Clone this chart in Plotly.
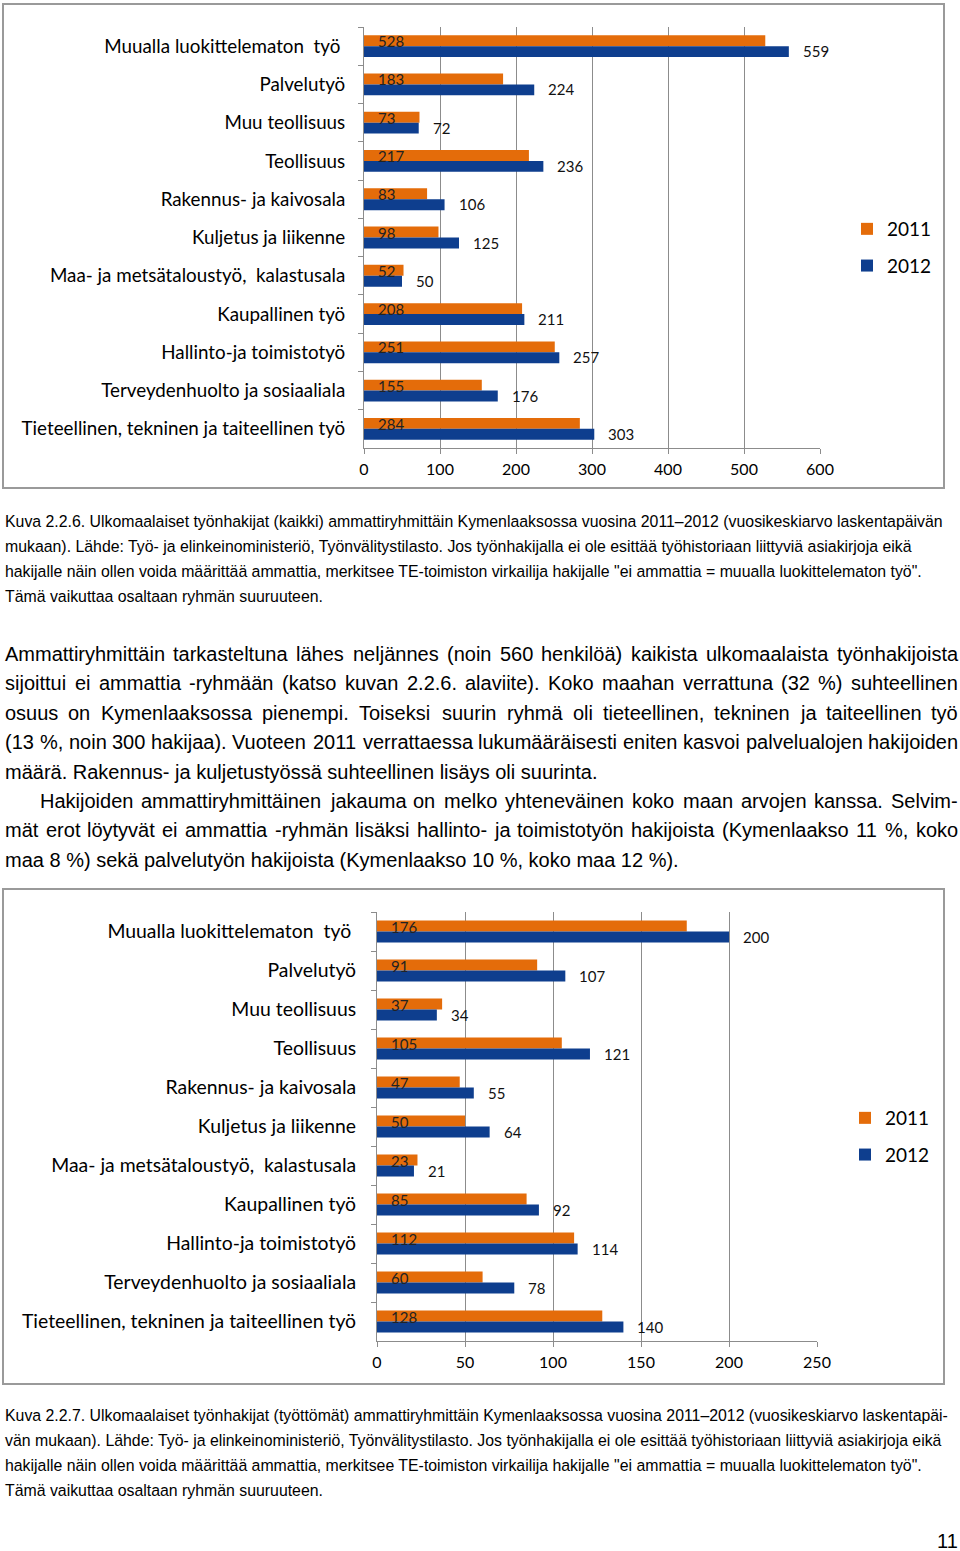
import plotly.graph_objects as go

# ---------------- data ----------------
categories = [
    "Muualla luokittelematon\u00a0 työ\u00a0",
    "Palvelutyö",
    "Muu teollisuus",
    "Teollisuus",
    "Rakennus- ja kaivosala",
    "Kuljetus ja liikenne",
    "Maa- ja metsätaloustyö,\u00a0 kalastusala",
    "Kaupallinen työ",
    "Hallinto-ja toimistotyö",
    "Terveydenhuolto ja sosiaaliala",
    "Tieteellinen, tekninen ja taiteellinen työ",
]
years = ["2011", "2012"]
all_2011 = [528, 183, 73, 217, 83, 98, 52, 208, 251, 155, 284]
all_2012 = [559, 224, 72, 236, 106, 125, 50, 211, 257, 176, 303]
unemp_2011 = [176, 91, 37, 105, 47, 50, 23, 85, 112, 60, 128]
unemp_2012 = [200, 107, 34, 121, 55, 64, 21, 92, 114, 78, 140]
x_ticks_all = [0, 100, 200, 300, 400, 500, 600]
x_ticks_unemp = [0, 50, 100, 150, 200, 250]

caption1 = [
    "Kuva 2.2.6. Ulkomaalaiset työnhakijat (kaikki) ammattiryhmittäin Kymenlaaksossa vuosina 2011–2012 (vuosikeskiarvo laskentapäivän",
    "mukaan). Lähde: Työ- ja elinkeinoministeriö, Työnvälitystilasto. Jos työnhakijalla ei ole esittää työhistoriaan liittyviä asiakirjoja eikä",
    "hakijalle näin ollen voida määrittää ammattia, merkitsee TE-toimiston virkailija hakijalle \"ei ammattia = muualla luokittelematon työ\".",
    "Tämä vaikuttaa osaltaan ryhmän suuruuteen.",
]
caption2 = [
    "Kuva 2.2.7. Ulkomaalaiset työnhakijat (työttömät) ammattiryhmittäin Kymenlaaksossa vuosina 2011–2012 (vuosikeskiarvo laskentapäi-",
    "vän mukaan). Lähde: Työ- ja elinkeinoministeriö, Työnvälitystilasto. Jos työnhakijalla ei ole esittää työhistoriaan liittyviä asiakirjoja eikä",
    "hakijalle näin ollen voida määrittää ammattia, merkitsee TE-toimiston virkailija hakijalle \"ei ammattia = muualla luokittelematon työ\".",
    "Tämä vaikuttaa osaltaan ryhmän suuruuteen.",
]
# (text, justified, indent)
body_lines = [
    ("Ammattiryhmittäin tarkasteltuna lähes neljännes (noin 560 henkilöä) kaikista ulkomaalaista työnhakijoista", True, False),
    ("sijoittui ei ammattia -ryhmään (katso kuvan 2.2.6. alaviite). Koko maahan verrattuna (32 %) suhteellinen", True, False),
    ("osuus on Kymenlaaksossa pienempi. Toiseksi suurin ryhmä oli tieteellinen, tekninen ja taiteellinen työ", True, False),
    ("(13 %, noin 300 hakijaa). Vuoteen 2011 verrattaessa lukumääräisesti eniten kasvoi palvelualojen hakijoiden", True, False),
    ("määrä. Rakennus- ja kuljetustyössä suhteellinen lisäys oli suurinta.", False, False),
    ("Hakijoiden ammattiryhmittäinen jakauma on melko yhteneväinen koko maan arvojen kanssa. Selvim-", True, True),
    ("mät erot löytyvät ei ammattia -ryhmän lisäksi hallinto- ja toimistotyön hakijoista (Kymenlaakso 11 %, koko", True, False),
    ("maa 8 %) sekä palvelutyön hakijoista (Kymenlaakso 10 %, koko maa 12 %).", False, False),
]
page_number = "11"

# ---------------- geometry helpers ----------------
W, H = 960, 1551


def px(x):
    return x / W


def py(y):
    return 1 - y / H


ORANGE = "#E46C0A"
BLUE = "#0E3E8E"
GRID = "#8c8c8c"
CHART_FONT = "Lato, 'Noto Sans', sans-serif"
TEXT_FONT = "'Liberation Sans', Arial, Helvetica, sans-serif"

# Arial / Liberation Sans advance widths (per 1000 em)
ARIAL = {" ": 278, ".": 278, ",": 278, "(": 333, ")": 333, "%": 889, "-": 333, ":": 278}
for c in "abdeghnopquäöå0123456789":
    ARIAL[c] = 556
for c in "cksvxyz":
    ARIAL[c] = 500
for c in "ft":
    ARIAL[c] = 278
for c in "ijl":
    ARIAL[c] = 222
ARIAL.update({"m": 833, "r": 333, "w": 722, "A": 667, "K": 667, "S": 667, "V": 667,
              "T": 611, "H": 722, "R": 722, "M": 833, "L": 556, "E": 667})


def tw(s, size):
    return sum(ARIAL.get(ch, 556) for ch in s) * size / 1000.0


fig = go.Figure()

# ---------------- bars ----------------
panels = [
    (all_2011, all_2012, "x", "y", "legend"),
    (unemp_2011, unemp_2012, "x2", "y2", "legend2"),
]
for v11, v12, xa, ya, lg in panels:
    for vals, name, color in ((v11, years[0], ORANGE), (v12, years[1], BLUE)):
        fig.add_trace(go.Bar(
            y=categories, x=vals, orientation="h", name=name,
            marker=dict(color=color, line=dict(width=0)),
            xaxis=xa, yaxis=ya, legend=lg, legendgroup=lg + name,
            hovertemplate="%{y}: %{x}<extra>" + name + "</extra>",
        ))

annotations = []
# data labels
for v11, v12, xa, ya, lg in panels:
    for cat, a, b in zip(categories, v11, v12):
        annotations.append(dict(
            x=0, y=cat, xref=xa, yref=ya, text=str(a), showarrow=False,
            xanchor="left", yanchor="middle", xshift=12, yshift=5,
            font=dict(family=CHART_FONT, size=15, color="#222222"),
        ))
        annotations.append(dict(
            x=b, y=cat, xref=xa, yref=ya, text=str(b), showarrow=False,
            xanchor="left", yanchor="middle", xshift=12, yshift=-5,
            font=dict(family=CHART_FONT, size=15, color="#111111"),
        ))


def text_line(s, x, y, size, anchor="left"):
    annotations.append(dict(
        x=px(x), y=py(y), xref="paper", yref="paper", text=s, showarrow=False,
        xanchor=anchor, yanchor="middle", borderpad=0, borderwidth=0,
        font=dict(family=TEXT_FONT, size=size, color="#000000"),
    ))


# captions
cap_size = 15.85
for i, s in enumerate(caption1):
    text_line(s, 5, 521 + i * 25, cap_size)
for i, s in enumerate(caption2):
    text_line(s, 5, 1415 + i * 25, cap_size)

# body text (justified)
body_size = 20
left, right = 5, 958
for i, (s, just, indent) in enumerate(body_lines):
    y = 654 + i * 29.4
    x0 = 40 if indent else left
    if not just:
        text_line(s, x0, y, body_size)
        continue
    words = s.split(" ")
    natural = sum(tw(w_, body_size) for w_ in words)
    gap = (right - x0 - natural) / (len(words) - 1)
    x = x0
    for w_ in words:
        text_line(w_, x, y, body_size)
        x += tw(w_, body_size) + gap

text_line(page_number, 958, 1541, 20, anchor="right")

# ---------------- frames ----------------
shapes = [
    dict(type="rect", xref="paper", yref="paper", x0=px(3), x1=px(944), y0=py(488), y1=py(4),
         line=dict(color="#9a9a9a", width=2), fillcolor="rgba(0,0,0,0)", layer="below"),
    dict(type="rect", xref="paper", yref="paper", x0=px(3), x1=px(944), y0=py(1384), y1=py(889),
         line=dict(color="#9a9a9a", width=2), fillcolor="rgba(0,0,0,0)", layer="below"),
]

xaxis_common = dict(
    showgrid=True, gridcolor=GRID, gridwidth=1, zeroline=False,
    showline=True, linecolor=GRID, linewidth=1,
    ticks="outside", ticklen=5, tickcolor=GRID,
    tickfont=dict(family=CHART_FONT, size=16, color="#000000"),
    ticklabelstandoff=2, fixedrange=True, automargin=False,
)
yaxis_common = dict(
    type="category", categoryorder="array", categoryarray=categories,
    autorange="reversed", showgrid=False, zeroline=False,
    showline=True, linecolor=GRID, linewidth=1,
    ticks="outside", ticklen=5, tickcolor=GRID, tickson="boundaries",
    fixedrange=True, automargin=False,
)

legend_common = dict(
    font=dict(family=CHART_FONT, size=19, color="#000000"),
    bgcolor="rgba(0,0,0,0)", borderwidth=0,
    traceorder="grouped", tracegroupgap=9,
    xanchor="left", yanchor="top", itemwidth=30,
)

fig.update_layout(
    width=W, height=H, autosize=False,
    margin=dict(l=0, r=0, t=0, b=0, pad=0, autoexpand=False),
    paper_bgcolor="white", plot_bgcolor="white",
    barmode="group", bargap=0.43, bargroupgap=0,
    xaxis=dict(domain=[px(364), px(820)], range=[0, 600], tickvals=x_ticks_all, anchor="y", **xaxis_common),
    yaxis=dict(domain=[py(448), py(27)], anchor="x",
               tickfont=dict(family=CHART_FONT, size=18.8, color="#000000"),
               ticklabelstandoff=14, **yaxis_common),
    xaxis2=dict(domain=[px(377), px(817)], range=[0, 250], tickvals=x_ticks_unemp, anchor="y2", **xaxis_common),
    yaxis2=dict(domain=[py(1341), py(912)], anchor="x2",
                tickfont=dict(family=CHART_FONT, size=19.4, color="#000000"),
                ticklabelstandoff=16, **yaxis_common),
    legend=dict(x=px(847), y=py(210), **legend_common),
    legend2=dict(x=px(845), y=py(1099), **legend_common),
    annotations=annotations,
    shapes=shapes,
    showlegend=True,
)

fig.write_html(
    "out.html",
    config={"displayModeBar": False},
    post_script="document.body.style.margin='0';document.body.style.padding='0';"
                "document.documentElement.style.overflow='hidden';",
)
